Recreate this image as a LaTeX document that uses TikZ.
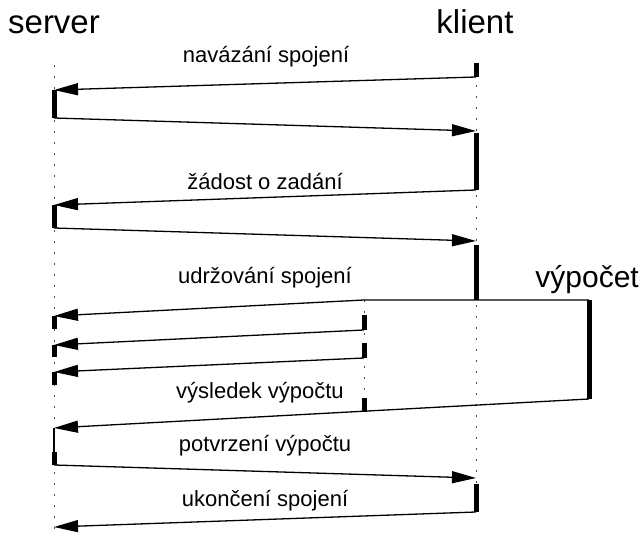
\documentclass[tikz,border=0pt]{standalone}
\usepackage{fontspec}
\setmainfont{Liberation Sans}
\usetikzlibrary{arrows.meta}
\begin{document}
\begin{tikzpicture}[x=1pt,y=-1pt,
  msg/.style={line width=1.3pt,-{Triangle[length=24pt,width=12pt]}},
  plain/.style={line width=1.3pt},
  act/.style={line width=5pt},
  life/.style={line width=1pt,black!70,dash pattern=on 2pt off 9pt},
  lbl/.style={font=\fontsize{22}{26}\selectfont,inner sep=0pt,anchor=base},
  ttl/.style={font=\fontsize{33}{38}\selectfont,inner sep=0pt,anchor=base}]
\useasboundingbox (0,0) rectangle (641,537);
% titles
\node[ttl] (tS) at (54,34) {server};
\node[ttl] (tK) at (475,34) {klient};
\node[ttl,anchor=base east,font=\fontsize{30}{34}\selectfont] (tV) at (639,288) {výpočet};
% lifeline ends
\coordinate (S0) at (54,65);  \coordinate (S9) at (54,537);
\coordinate (K0) at (476,63); \coordinate (K9) at (476,512);
\coordinate (M0) at (364,300); \coordinate (M9) at (364,412);
\draw[life] (S0) -- (S9);
\draw[life] (K0) -- (K9);
\draw[life] (M0) -- (M9);
% points
\coordinate (k1a) at (476,63);  \coordinate (k1b) at (476,77);
\coordinate (s1a) at (54,90);   \coordinate (s1b) at (54,118);
\coordinate (k2a) at (476,131); \coordinate (k2b) at (476,190);
\coordinate (s2a) at (54,205);  \coordinate (s2b) at (54,228);
\coordinate (k3a) at (476,241); \coordinate (k3b) at (476,300);
\coordinate (v1a) at (589,300); \coordinate (v1b) at (589,399);
\coordinate (m0)  at (364,300);
\coordinate (s3a) at (54,316);  \coordinate (s3b) at (54,329);
\coordinate (m1a) at (364,315); \coordinate (m1b) at (364,330);
\coordinate (s4a) at (54,345);  \coordinate (s4b) at (54,357);
\coordinate (m2a) at (364,343); \coordinate (m2b) at (364,358);
\coordinate (s5a) at (54,372);  \coordinate (s5b) at (54,385);
\coordinate (m3a) at (364,398); \coordinate (m3b) at (364,412);
\coordinate (s6a) at (54,428);  \coordinate (s6m) at (54,452); \coordinate (s6b) at (54,465);
\coordinate (k4a) at (476,478);
\coordinate (k5a) at (476,484); \coordinate (k5b) at (476,512);
\coordinate (s7a) at (54,527);
% activation bars
\draw[act] (k1a) -- (k1b);
\draw[act] (s1a) -- (s1b);
\draw[act] (k2a) ++(0,2) -- (k2b);
\draw[act] (s2a) -- (s2b);
\draw[act] (k3a) ++(0,4) -- (k3b);
\draw[act] (v1a) -- (v1b);
\draw[act] (s3a) -- (s3b);
\draw[act] (m1a) -- (m1b);
\draw[act] (s4a) -- (s4b);
\draw[act] (m2a) -- (m2b);
\draw[act] (s5a) -- (s5b);
\draw[act] (m3a) -- (m3b);
\draw[plain] (s6a) -- (s6b);
\draw[act] (s6m) -- (s6b);
\draw[act] (k5a) -- (k5b);
% messages
\draw[msg] (k1b) -- (s1a);
\draw[msg] (s1b) -- (k2a);
\draw[msg] (k2b) -- (s2a);
\draw[msg] (s2b) -- (k3a);
\draw[msg] (v1a) -- (m0) -- (s3a);
\draw[msg] (m1b) -- (s4a);
\draw[msg] (m2b) -- (s5a);
\draw[msg] (v1b) -- (s6a);
\draw[msg] (s6b) -- (k4a);
\draw[msg] (k5b) -- (s7a);
% labels
\node[lbl] (l1) at (266,63) {navázání spojení};
\node[lbl] (l2) at (265,190) {žádost o zadání};
\node[lbl] (l3) at (265,284) {udržování spojení};
\node[lbl] (l4) at (260,399) {výsledek výpočtu};
\node[lbl] (l5) at (265,452) {potvrzení výpočtu};
\node[lbl] (l6) at (265,507) {ukončení spojení};
\end{tikzpicture}
\end{document}
